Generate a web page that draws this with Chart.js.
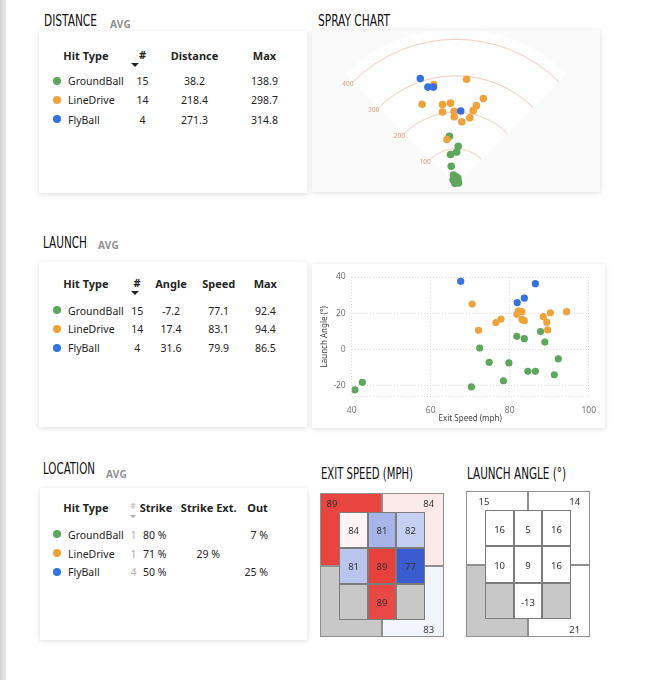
<!DOCTYPE html>
<html>
<head>
<meta charset="utf-8">
<title>Hit type dashboard</title>
<script src="https://cdn.jsdelivr.net/npm/chart.js@4.4.1/dist/chart.umd.min.js"></script>
<style>
  body { margin:0; width:645px; height:680px; position:relative; overflow:hidden; background:#fff;
         font-family:"Noto Sans","Open Sans",sans-serif; color:#252423; }
  .edge { position:absolute; left:0; top:0; width:6px; height:680px; background:linear-gradient(to right,#d0d0d0,#ececec); }
  .title { position:absolute; font-family:"Liberation Sans Narrow","DejaVu Sans Condensed",sans-serif; font-size:16px;
           line-height:16px; color:#111; white-space:nowrap; transform-origin:0 0; }
  .avg { position:absolute; font-size:10px; line-height:10px; font-weight:bold; color:#8f8f8f; letter-spacing:0.3px; }
  .card { position:absolute; background:#fff; box-shadow:0 1px 5px rgba(0,0,0,0.14); }
  .t { position:absolute; white-space:nowrap; line-height:1; font-size:10.5px; }
  .h { font-weight:bold; font-size:11px; }
  .dot { position:absolute; width:8px; height:8px; border-radius:50%; }
  .arrow { position:absolute; width:0; height:0; border-left:4px solid transparent; border-right:4px solid transparent; border-top:4px solid #222; }
  .clip { position:absolute; overflow:hidden; width:6px; height:14px; font-size:10.5px; line-height:14px; color:#b0b0b0; }
  .plot { position:absolute; }
  canvas { display:block; }
</style>
</head>
<body>
<div class="edge"></div>

<div class="title" id="tDist" style="left:44px;top:13px">DISTANCE</div>
<div class="avg" style="left:110px;top:19px">AVG</div>
<div class="title" id="tSpray" style="left:318px;top:13px">SPRAY CHART</div>
<div class="title" id="tLaunch" style="left:43px;top:235px">LAUNCH</div>
<div class="avg" style="left:98px;top:240px">AVG</div>
<div class="title" id="tLoc" style="left:43px;top:461px">LOCATION</div>
<div class="avg" style="left:106px;top:469px">AVG</div>
<div class="title" id="tExit" style="left:321px;top:466px">EXIT SPEED (MPH)</div>
<div class="title" id="tAngle" style="left:467px;top:466px">LAUNCH ANGLE (°)</div>

<div class="card" style="left:39px;top:31px;width:268px;height:162px"></div>
<div class="card" style="left:312px;top:30px;width:288px;height:162px;background:#fafafa"></div>
<div class="card" style="left:39px;top:262px;width:268px;height:165px"></div>
<div class="card" style="left:312px;top:264px;width:293px;height:164px"></div>
<div class="card" style="left:40px;top:488px;width:267px;height:152px"></div>

<div class="plot" style="left:312px;top:30px"><canvas id="spray" width="288" height="162"></canvas></div>
<div class="plot" style="left:312px;top:264px"><canvas id="launch" width="293" height="164"></canvas></div>
<div class="plot" style="left:319px;top:492px"><canvas id="exitZone" width="126" height="146"></canvas></div>
<div class="plot" style="left:465px;top:490px"><canvas id="angleZone" width="126" height="148"></canvas></div>

<script>
// ---- table data ----
const hitTypes = ['GroundBall', 'LineDrive', 'FlyBall'];
const hitCounts = [15, 14, 4];
const avgDistance = [38.2, 218.4, 271.3];
const maxDistance = [138.9, 298.7, 314.8];
const avgAngle = [-7.2, 17.4, 31.6];
const avgSpeed = [77.1, 83.1, 79.9];
const maxSpeed = [92.4, 94.4, 86.5];
const strikePct = [80, 71, 50];
const strikeExtPct = [null, 29, null];
const outPct = [7, null, 25];

// ---- spray chart, feet from home plate [x, y] ----
const sprayGround = [[-18, 137], [6, 109], [2, 93], [-15, 86], [-13, 53], [-7, 28], [-1, 24], [5, 20],
                     [0, 13], [2, 8], [-5, 18], [5, 12], [-3, 5], [7, 6], [-8, 15]];
const sprayLine = [[-61, 282], [29, 297], [-93, 227], [-37, 226], [-15, 230], [-37, 205], [-5, 207],
                   [-5, 192], [16, 178], [38, 189], [47, 209], [56, 223], [75, 243], [-25, 128]];
const sprayFly = [[-98, 299], [-77, 275], [-62, 275], [13, 208]];
const ringDistances = [100, 200, 300, 400];

// ---- launch chart [exit speed mph, launch angle deg] ----
const launchGround = [[40.8, -22.2], [42.7, -18.1], [70.3, -20.6], [72.4, 0.8], [74.8, -7.0], [78.4, -17.2],
                      [79.8, -7.4], [81.8, 7.3], [83.7, 6.0], [84.6, -12.0], [86.5, -12.0], [87.8, 9.9],
                      [88.9, 4.1], [91.3, -13.9], [92.3, -5.1]];
const launchLine = [[70.5, 25.1], [72.1, 10.6], [76.5, 14.9], [77.8, 16.8], [81.8, 19.4], [82.2, 21.2],
                    [83.1, 20.9], [83.1, 16.6], [83.7, 15.9], [88.5, 18.1], [89.4, 15.1], [89.6, 10.8],
                    [90.3, 20.3], [94.4, 20.9]];
const launchFly = [[67.6, 37.6], [86.5, 36.3], [81.9, 25.9], [83.7, 28.3]];
const speedTicks = [40, 60, 80, 100];
const angleTicks = [-20, 0, 20, 40];

// ---- strike zone: inner 3x3 (rows top->bottom), outer quadrants TL, TR, BL, BR ----
const exitInner = [[84.1, 80.7, 81.8], [81.4, 89.2, 76.9], [null, 88.8, null]];
const exitOuter = [88.9, 84.4, null, 83.4];
const angleInner = [[16, 5, 16], [10, 9, 16], [null, -13, null]];
const angleOuter = [15, 14, null, 21];

const hitColors = ['#5ea65b', '#f0a23c', '#3572e0'];

// ---- titles: squeeze to the condensed look ----
[['tDist', 53], ['tSpray', 72], ['tLaunch', 44], ['tLoc', 52], ['tExit', 92], ['tAngle', 99]].forEach(([id, w]) => {
  const el = document.getElementById(id);
  el.style.transform = 'scaleX(' + (w / el.getBoundingClientRect().width) + ')';
});

// ---- tables ----
function put(text, x, y, align, cls) {
  const d = document.createElement('div');
  d.className = 't ' + (cls || '');
  d.textContent = text;
  d.style.left = x + 'px';
  d.style.top = y + 'px';
  const tx = align === 'l' ? '0' : align === 'r' ? '-100%' : '-50%';
  d.style.transform = 'translate(' + tx + ',-50%)';
  document.body.appendChild(d);
  return d;
}
function dot(i, y) {
  const d = document.createElement('div');
  d.className = 'dot';
  d.style.left = '53px';
  d.style.top = (y - 4.5) + 'px';
  d.style.background = hitColors[i];
  document.body.appendChild(d);
}
function arrow(x, y, small) {
  const d = document.createElement('div');
  d.className = 'arrow';
  d.style.left = x + 'px';
  d.style.top = y + 'px';
  if (small) {
    d.style.borderLeftWidth = '3px';
    d.style.borderRightWidth = '3px';
    d.style.borderTopWidth = '3px';
    d.style.borderTopColor = '#aaa';
  }
  document.body.appendChild(d);
}

// distance
put('Hit Type', 86, 54.5, 'c', 'h');
put('#', 142.5, 53.5, 'c', 'h');
arrow(131, 62.5);
put('Distance', 194.5, 54.5, 'c', 'h');
put('Max', 264.5, 54.5, 'c', 'h');
[81, 100, 119.5].forEach((y, i) => {
  dot(i, y);
  put(hitTypes[i], 68, y, 'l');
  put(String(hitCounts[i]), 142.5, y);
  put(avgDistance[i].toFixed(1), 194.5, y);
  put(maxDistance[i].toFixed(1), 264.5, y);
});

// launch
put('Hit Type', 86, 282.5, 'c', 'h');
put('#', 137, 281.5, 'c', 'h');
arrow(131, 290.5);
put('Angle', 171, 282.5, 'c', 'h');
put('Speed', 218.7, 282.5, 'c', 'h');
put('Max', 265.3, 282.5, 'c', 'h');
[310.5, 329, 348].forEach((y, i) => {
  dot(i, y);
  put(hitTypes[i], 68, y, 'l');
  put(String(hitCounts[i]), 137.3, y);
  put(avgAngle[i].toFixed(1), 171, y);
  put(avgSpeed[i].toFixed(1), 218.7, y);
  put(maxSpeed[i].toFixed(1), 265.3, y);
});

// location
put('Hit Type', 86, 507, 'c', 'h');
const hashLoc = put('#', 133, 506, 'c', 'h');
hashLoc.style.color = '#c8c8c8';
hashLoc.style.fontSize = '8px';
arrow(130, 514.5, true);
put('Strike', 156, 507, 'c', 'h');
put('Strike Ext.', 208.7, 507, 'c', 'h');
put('Out', 257.5, 507, 'c', 'h');
[534.5, 553.5, 572].forEach((y, i) => {
  dot(i, y);
  put(hitTypes[i], 68, y, 'l');
  const c = document.createElement('div');
  c.className = 'clip';
  c.style.left = '130.5px';
  c.style.top = (y - 7) + 'px';
  c.textContent = String(hitCounts[i]);
  document.body.appendChild(c);
  if (strikePct[i] != null) put(strikePct[i] + ' %', 143, y, 'l');
  if (strikeExtPct[i] != null) put(strikeExtPct[i] + ' %', 208.3, y);
  if (outPct[i] != null) put(outPct[i] + ' %', 268, y, 'r');
});

// ---- charts ----
Chart.defaults.font.family = '"Noto Sans", sans-serif';
Chart.defaults.animation = false;

const toXY = arr => arr.map(p => ({ x: p[0], y: p[1] }));
const hitDatasets = (g, l, f) => [
  { label: hitTypes[0], data: toXY(g), backgroundColor: hitColors[0], order: 3 },
  { label: hitTypes[1], data: toXY(l), backgroundColor: hitColors[1], order: 2 },
  { label: hitTypes[2], data: toXY(f), backgroundColor: hitColors[2], order: 1 }
];

// spray field: fair wedge and distance rings
const fieldPlugin = {
  id: 'field',
  beforeDatasetsDraw(chart) {
    const { ctx, scales: { x, y } } = chart;
    const hx = x.getPixelForValue(0), hy = y.getPixelForValue(0);
    const ftPx = x.getPixelForValue(100) - hx;
    ctx.save();
    ctx.fillStyle = '#fefefe';
    ctx.beginPath();
    ctx.moveTo(hx, hy);
    ctx.arc(hx, hy, ftPx * 4.3, -Math.PI * 0.75, -Math.PI * 0.25);
    ctx.closePath();
    ctx.fill();
    ringDistances.forEach(d => {
      const r = x.getPixelForValue(d) - hx;
      ctx.strokeStyle = '#f0cfc3';
      ctx.lineWidth = 1;
      ctx.beginPath();
      ctx.arc(hx, hy, r, -Math.PI * 0.75, -Math.PI * 0.25);
      ctx.stroke();
      const ex = hx - r * Math.SQRT1_2, ey = hy - r * Math.SQRT1_2;
      ctx.fillStyle = '#d99c87';
      ctx.font = '6.5px "Noto Sans", sans-serif';
      ctx.textAlign = 'center';
      ctx.textBaseline = 'middle';
      ctx.fillText(String(d), ex - 5, ey + 2.5);
    });
    ctx.restore();
  }
};

new Chart(document.getElementById('spray'), {
  type: 'scatter',
  data: { datasets: hitDatasets(sprayGround, sprayLine, sprayFly) },
  options: {
    responsive: false,
    layout: { padding: 0 },
    elements: { point: { radius: 3.8, borderWidth: 0 } },
    plugins: { legend: { display: false }, tooltip: { enabled: false } },
    scales: {
      x: { type: 'linear', min: -384, max: 384, display: false },
      y: { type: 'linear', min: -8, max: 424, display: false }
    }
  },
  plugins: [fieldPlugin]
});

new Chart(document.getElementById('launch'), {
  type: 'scatter',
  data: { datasets: hitDatasets(launchGround, launchLine, launchFly) },
  options: {
    responsive: false,
    layout: { padding: { left: 6, right: 12.3, top: 13, bottom: 4 } },
    elements: { point: { radius: 3.6, borderWidth: 0 } },
    plugins: { legend: { display: false }, tooltip: { enabled: false } },
    scales: {
      x: {
        type: 'linear', min: 40, max: 100,
        afterBuildTicks: s => { s.ticks = speedTicks.map(v => ({ value: v })); },
        afterFit: s => { s.height = 27.3; },
        grid: { color: '#d9d9d9', drawTicks: false },
        border: { display: false, dash: [1, 2] },
        ticks: { font: { size: 8.5 }, color: '#777', padding: 9 },
        title: { display: true, text: 'Exit Speed (mph)', font: { size: 8 }, color: '#444', padding: { top: 0, bottom: 0 } }
      },
      y: {
        type: 'linear', min: -26, max: 40,
        afterBuildTicks: s => { s.ticks = [{ value: -26 }].concat(angleTicks.map(v => ({ value: v }))); },
        afterFit: s => { s.width = 33.7; },
        grid: { color: '#d9d9d9', drawTicks: false },
        border: { display: false, dash: [1, 2] },
        ticks: { font: { size: 8.5 }, color: '#777', padding: 6, callback: v => angleTicks.includes(v) ? v : '' },
        title: { display: true, text: 'Launch Angle (°)', font: { size: 8 }, color: '#444', padding: { top: 2, bottom: 0 } }
      }
    }
  }
});

// strike-zone heat maps
const RED = [232, 65, 61], BLUE = [59, 91, 208], GREY = '#c8c8c8';
function mix(c, t) {
  t = Math.max(0, Math.min(1, t));
  return 'rgb(' + c.map(v => Math.round(255 + (v - 255) * t)).join(',') + ')';
}
const speedColor = v => v == null ? GREY : v >= 83.8 ? mix(RED, (v - 83.8) / 5.2) : mix(BLUE, (83.8 - v) / 6.8);
const plainColor = v => v == null ? GREY : '#ffffff';

// zone settings kept outside chart options so Chart.js does not resolve them
const zoneSettings = {
  exitZone: { inner: exitInner, outer: exitOuter, color: speedColor, tlx: -0.26 },
  angleZone: { inner: angleInner, outer: angleOuter, color: plainColor, tlx: -0.05 }
};

const zonePlugin = {
  id: 'zones',
  afterDraw(chart) {
    const o = zoneSettings[chart.canvas.id];
    const { ctx, scales: { x, y } } = chart;
    const rect = (x0, x1, y0, y1, fill, stroke) => {
      const a = Math.round(x.getPixelForValue(x0)), b = Math.round(x.getPixelForValue(x1));
      const c = Math.round(y.getPixelForValue(y0)), d = Math.round(y.getPixelForValue(y1));
      ctx.fillStyle = fill;
      ctx.fillRect(a, c, b - a, d - c);
      ctx.strokeStyle = stroke;
      ctx.lineWidth = 1;
      ctx.strokeRect(a + 0.5, c + 0.5, b - a - 1, d - c - 1);
    };
    const label = (v, ux, uy) => {
      if (v == null) return;
      ctx.fillStyle = '#333';
      ctx.font = '9.5px "Noto Sans", sans-serif';
      ctx.textAlign = 'center';
      ctx.textBaseline = 'middle';
      ctx.fillText(String(Math.round(v)), x.getPixelForValue(ux), y.getPixelForValue(uy));
    };
    const xs = [x.min, 1.5, x.max], ys = [y.min, 1.5, y.max];
    ctx.save();
    o.outer.forEach((v, q) => {
      const cx = q % 2, cy = Math.floor(q / 2);
      rect(xs[cx], xs[cx + 1], ys[cy], ys[cy + 1], o.color(v), '#909090');
    });
    o.inner.forEach((row, r) => row.forEach((v, c) => rect(c, c + 1, r, r + 1, o.color(v), '#7c7c7c')));
    const qPos = [[o.tlx, -0.22], [3.14, -0.2], [o.tlx, 3.3], [3.14, 3.3]];
    o.outer.forEach((v, q) => label(v, qPos[q][0], qPos[q][1]));
    o.inner.forEach((row, r) => row.forEach((v, c) => label(v, c + 0.5, r + 0.55)));
    ctx.restore();
  }
};

function zoneChart(id) {
  return new Chart(document.getElementById(id), {
    type: 'scatter',
    data: { datasets: [] },
    options: {
      responsive: false,
      layout: { padding: 1 },
      plugins: { legend: { display: false }, tooltip: { enabled: false } },
      scales: {
        x: { type: 'linear', min: -0.68, max: 3.68, display: false },
        y: { type: 'linear', min: -0.52, max: 3.48, reverse: true, display: false }
      }
    },
    plugins: [zonePlugin]
  });
}
zoneChart('exitZone');
zoneChart('angleZone');
</script>
</body>
</html>
